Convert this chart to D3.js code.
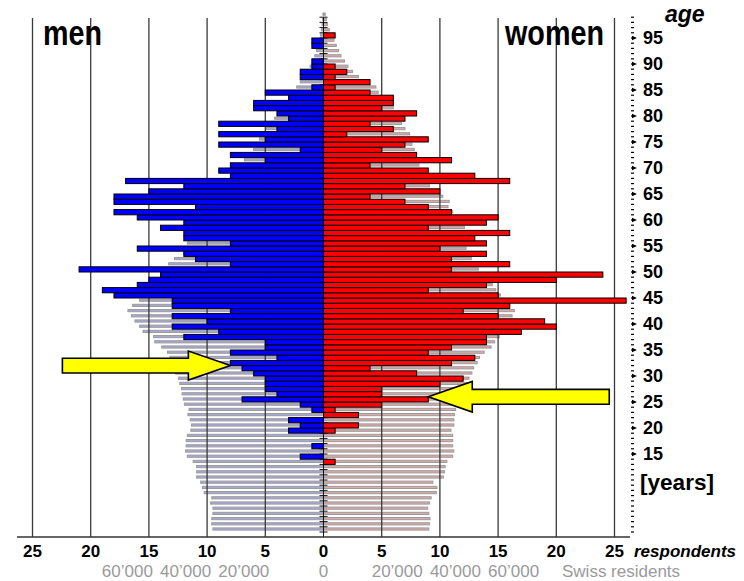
<!DOCTYPE html>
<html><head><meta charset="utf-8">
<script src="https://cdn.jsdelivr.net/npm/d3@7"></script>
<style>body{margin:0;background:#fff}svg{display:block}</style>
</head><body><svg id="c" width="744" height="581"></svg>
<script>
// ---------------- data ----------------
const respAges = d3.range(13, 96);
const menResp = [0,2,0,1,0,0,3,2,3,0, 1,2,7,4,5,5,5,6,7,8, 4,8,5,5,12,9,13,10,13,8,
  13,13,18,19,16,15,14,21,8,11, 12,16,8,12,12,14,12,16,18,11, 18,18,15,12,17,8,9,8,5,8,
  2,9,5,9,4,9,3,4,6,6, 3,5,1,0,2,2,1,1,0,0, 1,1,0];
const womenResp = [1,0,0,0,0,0,1,3,0,3, 1,5,9,5,5,10,12,8,4,11, 13,9,11,14,14,17,20,19,15,12,
  16,26,15,9,14,20,24,11,16,11, 14,10,14,13,16,9,14,15,11,9, 7,4,10,7,16,13,9,4,11,8,
  5,7,9,2,6,4,7,8,5,6, 6,4,1,4,1,2,1,0,0,0, 0,0,1];
const resAges = d3.range(0, 100);
// Swiss residents, thousands
const menRes = [38.0,38.4,38.4,38.0,38.0,38.8,38.4,41.0,41.6,42.2,
 43.6,43.6,43.6,44.8,46.8,47.4,47.2,47.2,46.8,45.6,
 45.4,45.8,46.6,46.2,47.8,48.2,48.6,48.8,49.4,49.8,
 50.8,51.6,52.0,52.8,53.6,55.6,58.0,58.4,62.0,63.2,
 64.8,66.0,67.2,65.6,63.2,62.4,60.8,59.2,57.6,55.2,
 54.0,53.2,51.2,48.0,47.6,46.8,46.4,46.0,45.2,44.8,
 44.0,44.0,43.2,42.0,40.0,38.0,35.2,34.0,31.6,30.0,
 29.2,27.2,26.0,24.0,23.2,22.0,20.8,19.6,18.4,16.8,
 15.6,14.4,13.2,11.8,10.8,9.2,8.0,6.8,5.6,4.6,
 3.8,3.0,2.4,1.8,1.4,1.0,0.7,0.5,0.3,0.2];
const womenRes = [36.2,36.4,36.6,36.2,35.8,36.4,37.0,38.8,39.0,37.6,
 41.2,41.6,41.8,42.4,44.4,44.8,44.4,44.4,44.4,43.8,
 44.8,44.8,45.0,45.4,46.0,46.8,47.6,48.0,49.2,50.0,
 51.0,51.6,52.8,53.6,55.2,57.6,58.8,60.4,62.4,63.6,
 64.4,64.8,65.6,64.0,62.4,60.8,59.2,58.0,56.8,55.2,
 53.2,52.0,50.8,50.0,49.0,48.8,48.6,48.4,48.4,46.4,
 45.6,44.4,42.8,43.2,41.0,38.4,36.4,35.6,34.4,33.6,
 32.8,32.0,31.6,31.2,30.4,30.0,29.6,28.0,26.8,26.0,
 25.2,24.0,22.4,20.8,18.8,18.0,14.4,12.0,10.0,8.4,
 7.2,6.0,5.2,4.4,3.6,2.8,2.0,1.4,1.0,0.6];
const respTicks = [5,10,15,20,25];
const resTicks = [20,40,60];          // thousands
const ageTicks = [15,20,25,30,35,40,45,50,55,60,65,70,75,80,85,90,95];
const arrows = [ {side:"men", value:8, age:32}, {side:"women", value:9, age:26} ];

// ---------------- layout ----------------
const FONT = "'Liberation Sans', Arial, Helvetica, sans-serif";
const svg = d3.select("#c");
const X0 = 323.5, U = 11.64;
const xMen = d3.scaleLinear().domain([0,25]).range([X0, X0-25*U]);
const xWomen = d3.scaleLinear().domain([0,25]).range([X0, X0+25*U]);
const resMen = d3.scaleLinear().domain([0,100]).range(xMen.range());
const resWomen = d3.scaleLinear().domain([0,100]).range(xWomen.range());
const y = d3.scaleLinear().domain([0,95]).range([532,38]);
const yTop = 18, yBot = 537;
const rowH = y(0)-y(1);

// residents bars
function resBars(data, sc, fill){
  svg.append("g").selectAll("rect").data(resAges).join("rect")
    .attr("x", (a,i)=>Math.min(sc(0), sc(data[i])))
    .attr("width", (a,i)=>Math.abs(sc(data[i])-sc(0)))
    .attr("y", a => (y(a)+y(a+1))/2 - 1.5)
    .attr("height", 2.2)
    .attr("fill", fill).attr("stroke", "#9c9c9c").attr("stroke-width", 1);
}
resBars(menRes, resMen, "#a8a8d8");
resBars(womenRes, resWomen, "#dca8a8");

// gridlines
const grid = svg.append("g").attr("stroke", "#3a3a3a").attr("stroke-width", 1.3);
respTicks.forEach(v=>{
  [xMen(v), xWomen(v)].forEach(xx=>{
    grid.append("line").attr("x1",xx).attr("x2",xx).attr("y1",yTop).attr("y2",yBot);
  });
});

// centre axis with yearly ticks
const ca = svg.append("g").attr("stroke","#111").attr("stroke-width",1);
ca.append("line").attr("x1",X0).attr("x2",X0).attr("y1",y(99)).attr("y2",yBot);
d3.range(0,100).forEach(a=>{
  ca.append("line").attr("x1",X0-4).attr("x2",X0+4).attr("y1",y(a)).attr("y2",y(a));
});

// bottom axis line
svg.append("line").attr("x1",17).attr("x2",630).attr("y1",yBot).attr("y2",yBot)
  .attr("stroke","#333").attr("stroke-width",1.3);

// respondents bars
function respBars(data, sc, fill){
  const d = respAges.map((a,i)=>({a, v:data[i]})).filter(d=>d.v>0);
  svg.append("g").selectAll("rect").data(d).join("rect")
    .attr("x", d=>Math.min(sc(0), sc(d.v)))
    .attr("width", d=>Math.abs(sc(d.v)-sc(0)))
    .attr("y", d=>y(d.a+1))
    .attr("height", rowH)
    .attr("fill", fill).attr("stroke","#000").attr("stroke-width",1);
}
respBars(menResp, xMen, "#0000ff");
respBars(womenResp, xWomen, "#ff0000");

// titles
svg.append("text").attr("x",43).attr("y",45).text("men")
  .attr("font-family",FONT).attr("font-weight","bold").attr("font-size",35)
  .attr("textLength",59).attr("lengthAdjust","spacingAndGlyphs");
svg.append("text").attr("x",505).attr("y",45).text("women")
  .attr("font-family",FONT).attr("font-weight","bold").attr("font-size",35)
  .attr("textLength",99).attr("lengthAdjust","spacingAndGlyphs");

// bottom tick labels
const bl = svg.append("g").attr("font-family",FONT).attr("font-weight","bold")
  .attr("font-size",17).attr("text-anchor","middle").attr("fill","#000");
bl.append("text").attr("x",X0).attr("y",557).text("0");
respTicks.forEach(v=>{
  bl.append("text").attr("x",xMen(v)).attr("y",557).text(v);
  bl.append("text").attr("x",xWomen(v)).attr("y",557).text(v);
});
svg.append("text").attr("x",634).attr("y",557).text("respondents")
  .attr("font-family",FONT).attr("font-weight","bold").attr("font-style","italic").attr("font-size",17);

const fmt = v => d3.format(",")(v*1000).replace(/,/g, "\u2019");
const gl = svg.append("g").attr("font-family",FONT).attr("font-size",17).attr("fill","#9a9a9a");
gl.append("text").attr("x",X0).attr("y",577).attr("text-anchor","middle").text("0");
resTicks.forEach(v=>{
  gl.append("text").attr("x",resMen(v)+4).attr("y",577).attr("text-anchor","end").text(fmt(v));
  gl.append("text").attr("x",resWomen(v)-10).attr("y",577).attr("text-anchor","start").text(fmt(v));
});
gl.append("text").attr("x",562).attr("y",577).text("Swiss residents");

// right age axis
const ra = svg.append("g");
d3.range(0,100).forEach(a=>{
  ra.append("line").attr("x1",631).attr("x2",634).attr("y1",y(a)).attr("y2",y(a))
    .attr("stroke","#000").attr("stroke-width",1.2);
});
ageTicks.forEach(a=>{
  ra.append("path").attr("d",`M${632},${y(a)-2.2}L${637},${y(a)}L${632},${y(a)+2.2}Z`).attr("fill","#000");
  ra.append("text").attr("x",643).attr("y",y(a)+6.4).text(a)
    .attr("font-family",FONT).attr("font-weight","bold").attr("font-size",18);
});
svg.append("text").attr("x",665).attr("y",22).text("age")
  .attr("font-family",FONT).attr("font-weight","bold").attr("font-style","italic").attr("font-size",23);
svg.append("text").attr("x",640).attr("y",490).text("[years]")
  .attr("font-family",FONT).attr("font-weight","bold").attr("font-size",22)
  .attr("textLength",74).attr("lengthAdjust","spacingAndGlyphs");

// arrows
arrows.forEach(ar=>{
  const dir = ar.side==="men" ? -1 : 1;
  const tx = ar.side==="men" ? xMen(ar.value) : xWomen(ar.value);
  const ty = y(ar.age);
  const head = ar.side==="men" ? 42 : 44, len = ar.side==="men" ? 168 : 181;
  const hh = ar.side==="men" ? 14.5 : 15.3, bh = 7.4;
  const hx = tx + dir*head, ex = tx + dir*len;
  const pts = [[tx,ty],[hx,ty-hh],[hx,ty-bh],[ex,ty-bh],[ex,ty+bh],[hx,ty+bh],[hx,ty+hh]];
  svg.append("path").attr("d","M"+pts.map(p=>p.join(",")).join("L")+"Z")
    .attr("fill","#ffff00").attr("stroke","#000").attr("stroke-width",1.6).attr("stroke-linejoin","miter");
});
</script></body></html>
